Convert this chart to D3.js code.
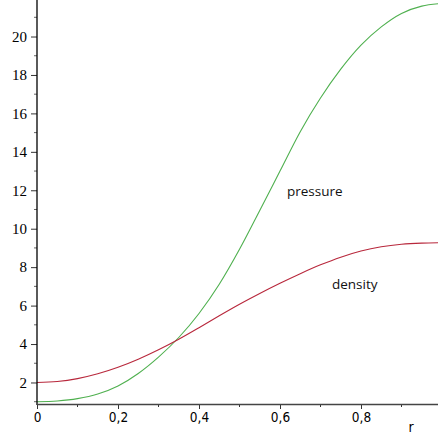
<!DOCTYPE html>
<html>
<head>
<meta charset="utf-8">
<script src="https://cdn.jsdelivr.net/npm/d3@7"></script>
<style>
  body { margin: 0; background: #fff; }
  svg { display: block; }
  .ylab text { font-family: "Liberation Serif", "DejaVu Serif", serif; font-size: 15px; }
  .xlab text { font-family: "DejaVu Sans Condensed", "Liberation Sans Narrow", sans-serif; font-size: 13.5px; }
</style>
</head>
<body>
<div id="chart"></div>
<script>
var rValues = [0, 0.05, 0.1, 0.15, 0.2, 0.25, 0.3, 0.35, 0.4, 0.45, 0.5,
               0.55, 0.6, 0.65, 0.7, 0.75, 0.8, 0.85, 0.9, 0.95, 1];
var pressure = [1.00, 1.04, 1.16, 1.40, 1.82, 2.47, 3.32, 4.34, 5.59, 7.11, 8.93,
                10.95, 13.00, 15.05, 16.80, 18.30, 19.55, 20.50, 21.20, 21.58, 21.72];
var density = [2.00, 2.05, 2.20, 2.45, 2.79, 3.21, 3.70, 4.25, 4.85, 5.47, 6.07,
               6.63, 7.16, 7.66, 8.12, 8.52, 8.84, 9.06, 9.19, 9.25, 9.27];
var xTicks = [0, 0.2, 0.4, 0.6, 0.8, 1];
var xTickLabels = ["0", "0,2", "0,4", "0,6", "0,8", "1"];
var yTicks = [2, 4, 6, 8, 10, 12, 14, 16, 18, 20];

var svgWidth = 438;
var svgHeight = 438;

var svg = d3.select("#chart")
    .append("svg")
    .attr("width", svgWidth)
    .attr("height", svgHeight);

var xScale = d3.scaleLinear()
    .domain([0, 1])
    .range([37, 442]);

var yScale = d3.scaleLinear()
    .domain([0.88, 21.9])
    .range([404, 0]);

// curves
var line = d3.line()
    .x((d, i) => xScale(rValues[i]))
    .y(d => yScale(d))
    .curve(d3.curveMonotoneX);

svg.append("path")
    .datum(pressure)
    .attr("d", line)
    .attr("fill", "none")
    .attr("stroke", "#4fb04f")
    .attr("stroke-width", 1.1);

svg.append("path")
    .datum(density)
    .attr("d", line)
    .attr("fill", "none")
    .attr("stroke", "#b8283c")
    .attr("stroke-width", 1.1);

// y axis
var leftAxis = d3.axisLeft(yScale)
    .tickValues(yTicks)
    .tickSize(6)
    .tickPadding(4)
    .tickFormat(d3.format("d"));

var yAxisG = svg.append("g")
    .attr("class", "ylab")
    .attr("transform", "translate(37,0)")
    .call(leftAxis)
    .attr("font-family", null)
    .attr("font-size", null);
yAxisG.select(".domain").remove();
yAxisG.selectAll("text").attr("fill", "#000");
yAxisG.selectAll("line").attr("stroke", "#333");

// minor y ticks
svg.append("g").selectAll("line")
    .data(d3.range(1, 22, 2))
    .enter()
    .append("line")
    .attr("x1", 34)
    .attr("x2", 37)
    .attr("y1", d => yScale(d))
    .attr("y2", d => yScale(d))
    .attr("stroke", "#666");

// x axis
var bottomAxis = d3.axisBottom(xScale)
    .tickValues(xTicks)
    .tickSize(5)
    .tickPadding(3)
    .tickFormat((d, i) => xTickLabels[i]);

var xAxisG = svg.append("g")
    .attr("class", "xlab")
    .attr("transform", "translate(0,404)")
    .call(bottomAxis)
    .attr("font-family", null)
    .attr("font-size", null);
xAxisG.select(".domain").remove();
xAxisG.selectAll("text").attr("fill", "#000");
xAxisG.selectAll("line").attr("stroke", "#333");

// minor x ticks
svg.append("g").selectAll("line")
    .data([0.1, 0.3, 0.5, 0.7, 0.9])
    .enter()
    .append("line")
    .attr("x1", d => xScale(d))
    .attr("x2", d => xScale(d))
    .attr("y1", 404)
    .attr("y2", 407)
    .attr("stroke", "#333");

// axis lines
svg.append("line")
    .attr("x1", 37).attr("x2", 37)
    .attr("y1", 0).attr("y2", 405)
    .attr("stroke", "#000")
    .attr("stroke-width", 1.3);

svg.append("line")
    .attr("x1", 37).attr("x2", svgWidth)
    .attr("y1", 404.5).attr("y2", 404.5)
    .attr("stroke", "#444")
    .attr("stroke-width", 1.3);

// labels
svg.append("text")
    .text("r")
    .attr("x", 411)
    .attr("y", 432)
    .attr("text-anchor", "middle")
    .style("font-family", "'DejaVu Sans Condensed', sans-serif")
    .style("font-size", "14px");

svg.append("text")
    .text("pressure")
    .attr("x", 287)
    .attr("y", 196)
    .style("font-family", "'Open Sans', sans-serif")
    .style("font-size", "13.5px")
    .attr("fill", "#111");

svg.append("text")
    .text("density")
    .attr("x", 332)
    .attr("y", 289)
    .style("font-family", "'Open Sans', sans-serif")
    .style("font-size", "13.5px")
    .attr("fill", "#111");
</script>
</body>
</html>
